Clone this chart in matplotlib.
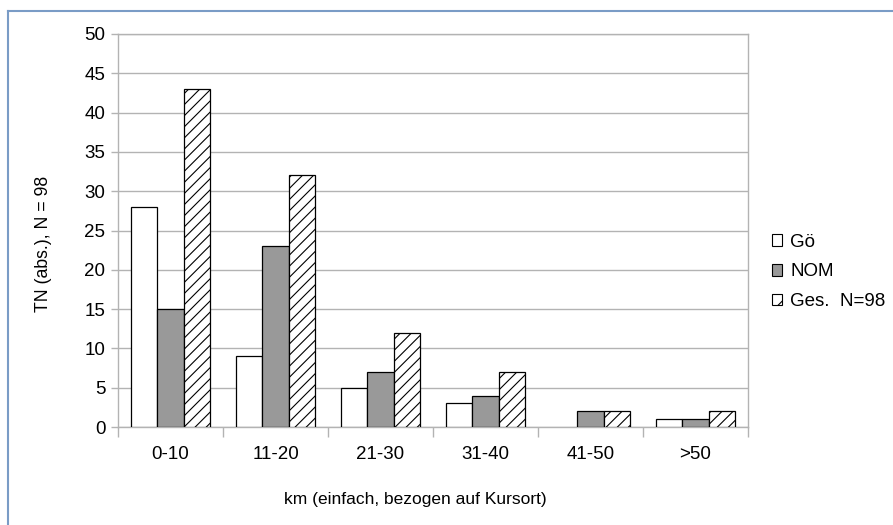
import matplotlib
matplotlib.use("Agg")
import matplotlib.pyplot as plt
from matplotlib.patches import Rectangle
from matplotlib.lines import Line2D

# Entfernungsklassen und Teilnehmerzahlen
kategorien = ["0-10", "11-20", "21-30", "31-40", "41-50", ">50"]
goe = [28, 9, 5, 3, 0, 1]
nom = [15, 23, 7, 4, 2, 1]
gesamt = [43, 32, 12, 7, 2, 2]
y_ticks = [0, 5, 10, 15, 20, 25, 30, 35, 40, 45, 50]

plt.rcParams['font.family'] = ['Liberation Sans', 'DejaVu Sans']
plt.rcParams['hatch.linewidth'] = 0.8

fig = plt.figure(figsize=(8.93, 5.25), dpi=100)
ax = fig.add_axes([118/893, 1 - 427/525, 630/893, 393/525])

grau = "#b3b3b3"
x = list(range(len(kategorien)))
w = 0.25

def lw(werte):
    return [0.9 if v else 0 for v in werte]

ax.bar([i - w for i in x], goe, w, color="white", edgecolor="black", linewidth=lw(goe), zorder=3)
ax.bar(x, nom, w, color="#999999", edgecolor="black", linewidth=lw(nom), zorder=3)
ax.bar([i + w for i in x], gesamt, w, color="white", edgecolor="black", hatch="///",
       linewidth=lw(gesamt), zorder=3)

ax.set_xlim(-0.5, len(kategorien) - 0.5)
ax.set_ylim(0, 50)
ax.set_yticks(y_ticks)
ax.set_xticks(x)
ax.set_xticklabels(kategorien)
ax.set_xticks([i - 0.5 for i in range(len(kategorien) + 1)], minor=True)
ax.tick_params(axis="x", which="major", length=0, labelsize=13.5, pad=14)
ax.tick_params(axis="x", which="minor", length=7, color=grau, width=1)
ax.tick_params(axis="y", length=5, color=grau, width=1, labelsize=13.5, pad=4)
ax.yaxis.grid(True, color=grau, linewidth=1, zorder=0)
ax.set_axisbelow(True)
for s in ax.spines.values():
    s.set_color(grau)
    s.set_linewidth(1)

ax.set_xlabel("km (einfach, bezogen auf Kursort)", fontsize=12.5)
ax.xaxis.set_label_coords(0.472, -0.165)
ax.set_ylabel("TN (abs.), N = 98", fontsize=12.7)
ax.yaxis.set_label_coords(-0.105, 0.466)

handles = [
    Rectangle((0, 0), 1, 1, facecolor="white", edgecolor="black", linewidth=0.8),
    Rectangle((0, 0), 1, 1, facecolor="#999999", edgecolor="black", linewidth=0.8),
    Rectangle((0, 0), 1, 1, facecolor="white", edgecolor="black", hatch="//", linewidth=0.8),
]
fig.legend(handles, ["Gö", "NOM", "Ges.  N=98"], loc="center left",
           bbox_to_anchor=(772/893, 1 - 272/525), frameon=False, fontsize=13.5,
           handlelength=0.55, handleheight=0.55, handletextpad=0.43,
           labelspacing=0.68, borderpad=0, borderaxespad=0)

# Rahmen oben und links
rahmen = "#7a9cc6"
fig.add_artist(Line2D([7.5/893, 1], [1 - 10.5/525] * 2, color=rahmen, linewidth=1.5))
fig.add_artist(Line2D([7.5/893] * 2, [0, 1 - 10.5/525], color=rahmen, linewidth=1.5))

fig.savefig("out.png", dpi=100)
